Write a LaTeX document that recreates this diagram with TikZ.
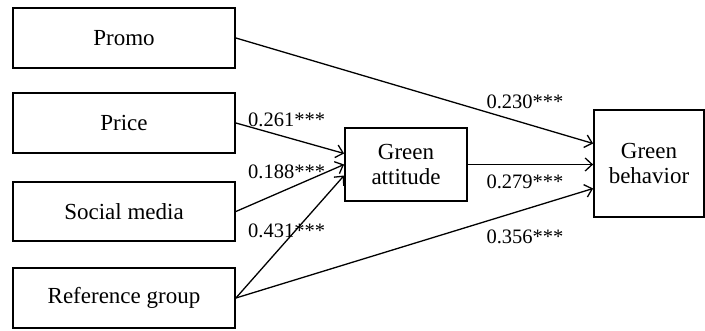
\documentclass[tikz,border=0pt]{standalone}
\usepackage{fontspec}
\newfontfamily\tnr{Liberation Serif}
\usetikzlibrary{arrows.meta}
\begin{document}
\begin{tikzpicture}[x=1pt,y=-1pt,
  box/.style={draw,line width=1.8pt,rectangle,inner sep=0pt,font=\tnr\fontsize{23}{25}\selectfont,align=center},
  lbl/.style={font=\tnr\fontsize{20.5}{24}\selectfont,inner sep=0pt},
  arr/.style={line width=1.3pt,-{Straight Barb[length=7pt,width=13pt,line width=1.3pt]}}]
\useasboundingbox (0,0) rectangle (705,331);
\node[box,minimum width=222pt,minimum height=60pt] (promo) at (124,38) {Promo};
\node[box,minimum width=222pt,minimum height=60pt] (price) at (124,123) {Price};
\node[box,minimum width=222pt,minimum height=59pt] (social) at (124,211.5) {Social media};
\node[box,minimum width=222pt,minimum height=60pt] (ref) at (124,298) {Reference group};
\node[box,minimum width=122pt,minimum height=73pt] (att) at (406,164.5) {Green\\attitude};
\node[box,minimum width=110pt,minimum height=107pt] (beh) at (649,163.5) {Green\\behavior};
\draw[arr] (promo.east) -- ([yshift=20pt]beh.west);
\draw[arr] (price.east) -- ([yshift=11pt]att.west);
\draw[arr] (social.east) -- (att.west);
\draw[arr] (ref.east) -- ([yshift=-11pt]att.west);
\draw[arr] (ref.east) -- ([yshift=-25pt]beh.west);
\draw[arr] (att.east) -- (att.east -| beh.west);
\node[lbl,anchor=west] (l1) at (248,120) {0.261***};
\node[lbl,anchor=west] (l2) at (248,172) {0.188***};
\node[lbl,anchor=west] (l3) at (248,231) {0.431***};
\node[lbl] (l4) at (525,102) {0.230***};
\node[lbl] (l5) at (525,182) {0.279***};
\node[lbl] (l6) at (525,237) {0.356***};
\end{tikzpicture}
\end{document}
